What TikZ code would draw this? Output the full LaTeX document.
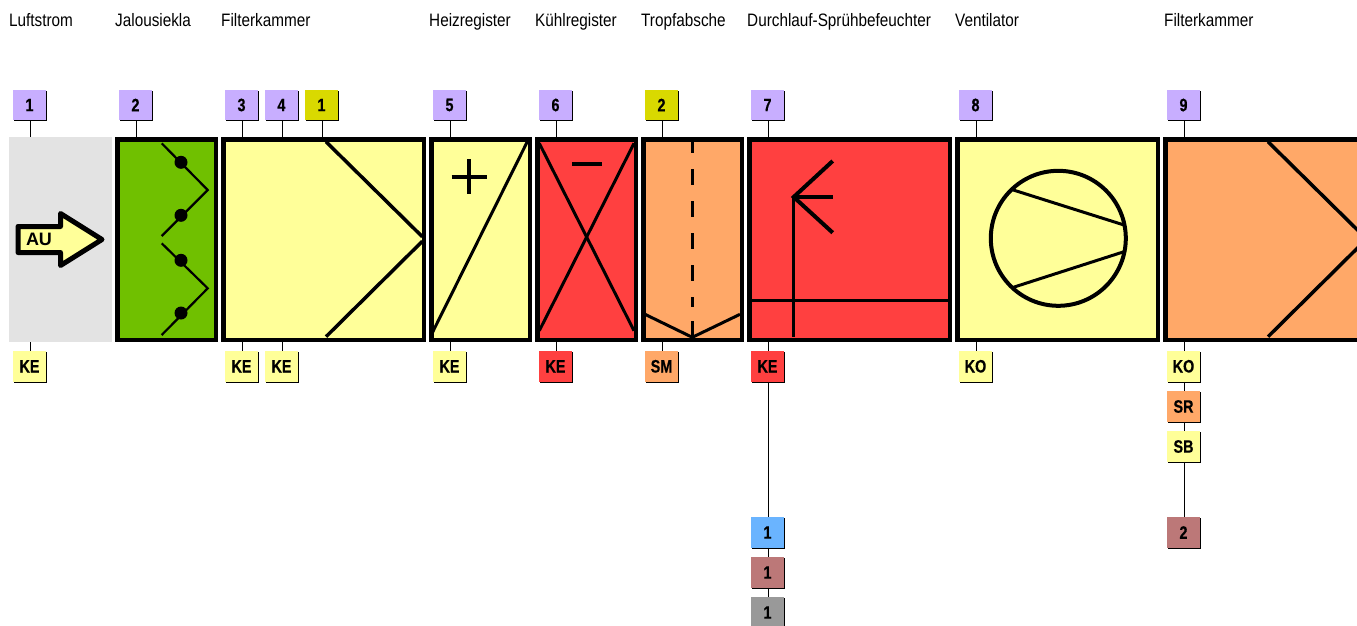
\documentclass[tikz,border=0pt]{standalone}
\usepackage{fontspec}
\usetikzlibrary{shadows}
\setmainfont{Liberation Sans}
\newfontfamily\labfont[FakeStretch=0.85]{Liberation Sans}
\newfontfamily\badfont[FakeStretch=0.8,FakeBold=0.4]{Liberation Sans Bold}
\newfontfamily\aufont{Liberation Sans Bold}
\definecolor{lilac}{HTML}{C8AEFF}
\definecolor{lime}{HTML}{D9D900}
\definecolor{ltyel}{HTML}{FFFF99}
\definecolor{redc}{HTML}{FF4040}
\definecolor{orangec}{HTML}{FFA868}
\definecolor{greenc}{HTML}{70C000}
\definecolor{bluec}{HTML}{6AB4FF}
\definecolor{brownc}{HTML}{BC7878}
\definecolor{greyc}{HTML}{999999}
\definecolor{ltgrey}{HTML}{E3E3E3}
\tikzset{
  head/.style={anchor=base west,inner sep=0pt,font=\labfont\fontsize{18pt}{20pt}\selectfont},
  badge/.style={rectangle,inner sep=0pt,minimum width=33pt,minimum height=30.5pt,
    font=\badfont\fontsize{18pt}{20pt}\selectfont,
    drop shadow={shadow xshift=1pt,shadow yshift=-1pt,fill=black,opacity=1}},
  block/.style={rectangle,draw=black,line width=4.5pt,inner sep=0pt,anchor=north west,minimum height=200.5pt},
  conn/.style={draw=black,line width=1pt},
  sym/.style={draw=black,line width=3.5pt},
  symthin/.style={draw=black,line width=3pt},
}
\newcommand{\upc}[2]{\draw[conn] ([xshift=.8pt]#1.south) -- ([xshift=.8pt]#1.south |- #2.north);}
\newcommand{\dnc}[2]{\draw[conn] ([xshift=.8pt]#2.north |- #1.south) -- ([xshift=.8pt]#2.north);}
\begin{document}
\begin{tikzpicture}[x=1pt,y=-1pt]
\useasboundingbox (0,0) rectangle (1357,625);
\clip (0,0) rectangle (1357,625);
% headings
\node[head] (h1) at (9,26.6) {Luftstrom};
\node[head] (h2) at (115,26.6) {Jalousiekla};
\node[head] (h3) at (221,26.6) {Filterkammer};
\node[head] (h4) at (429,26.6) {Heizregister};
\node[head] (h5) at (535,26.6) {Kühlregister};
\node[head] (h6) at (641,26.6) {Tropfabsche};
\node[head] (h7) at (747,26.6) {Durchlauf-Sprühbefeuchter};
\node[head] (h8) at (955,26.6) {Ventilator};
\node[head] (h9) at (1164,26.6) {Filterkammer};
% blocks
\node[rectangle,fill=ltgrey,inner sep=0pt,anchor=north west,minimum width=103pt,minimum height=205pt] (A) at (9,137) {};
\node[block,fill=greenc,minimum width=98.5pt] (B) at (115,137) {};
\node[block,fill=ltyel,minimum width=200.5pt] (C) at (221,137) {};
\node[block,fill=ltyel,minimum width=98.5pt] (D) at (429,137) {};
\node[block,fill=redc,minimum width=98.5pt] (E) at (535,137) {};
\node[block,fill=orangec,minimum width=98.5pt] (F) at (641,137) {};
\node[block,fill=redc,minimum width=200.5pt] (G) at (747,137) {};
\node[block,fill=ltyel,minimum width=200.5pt] (H) at (955,137) {};
\node[block,fill=orangec,minimum width=200.5pt] (I) at (1163,137) {};
% top badges
\node[badge,fill=lilac] (t1) at (29.5,105) {1};
\node[badge,fill=lilac] (t2) at (135.5,105) {2};
\node[badge,fill=lilac] (t3) at (241.5,105) {3};
\node[badge,fill=lilac] (t4) at (281.5,105) {4};
\node[badge,fill=lime] (t5) at (321.5,105) {1};
\node[badge,fill=lilac] (t6) at (449.5,105) {5};
\node[badge,fill=lilac] (t7) at (555.5,105) {6};
\node[badge,fill=lime] (t8) at (661.5,105) {2};
\node[badge,fill=lilac] (t9) at (767.5,105) {7};
\node[badge,fill=lilac] (t10) at (975.5,105) {8};
\node[badge,fill=lilac] (t11) at (1183.5,105) {9};
% bottom badges
\node[badge,fill=ltyel] (b1) at (29.5,366.3) {KE};
\node[badge,fill=ltyel] (b3) at (241.5,366.3) {KE};
\node[badge,fill=ltyel] (b4) at (281.5,366.3) {KE};
\node[badge,fill=ltyel] (b6) at (449.5,366.3) {KE};
\node[badge,fill=redc] (b7) at (555.5,366.3) {KE};
\node[badge,fill=orangec] (b8) at (661.5,366.3) {SM};
\node[badge,fill=redc] (b9) at (767.5,366.3) {KE};
\node[badge,fill=ltyel] (b10) at (975.5,366.3) {KO};
\node[badge,fill=ltyel] (b11) at (1183.5,366.3) {KO};
\node[badge,fill=orangec] (c11) at (1183.5,406.5) {SR};
\node[badge,fill=ltyel] (d11) at (1183.5,446.5) {SB};
\node[badge,fill=brownc] (e11) at (1183.5,532.5) {2};
\node[badge,fill=bluec] (e9) at (767.5,532.5) {1};
\node[badge,fill=brownc] (f9) at (767.5,572.5) {1};
\node[badge,fill=greyc] (g9) at (767.5,612.5) {1};
% connectors to blocks
\upc{t1}{A}\upc{t2}{B}\upc{t3}{C}\upc{t4}{C}\upc{t5}{C}\upc{t6}{D}\upc{t7}{E}\upc{t8}{F}\upc{t9}{G}\upc{t10}{H}\upc{t11}{I}
\dnc{A}{b1}\dnc{C}{b3}\dnc{C}{b4}\dnc{D}{b6}\dnc{E}{b7}\dnc{F}{b8}\dnc{G}{b9}\dnc{H}{b10}\dnc{I}{b11}
% chains
\dnc{b9}{e9}\dnc{e9}{f9}\dnc{f9}{g9}
\dnc{b11}{c11}\dnc{c11}{d11}\dnc{d11}{e11}
% arrow in block A
\draw[line width=5pt,line join=round,fill=ltyel] (18,226.5) -- (60.5,226.5) -- (60.5,213.5) -- (102,239.5) -- (60.5,265.5) -- (60.5,252.5) -- (18,252.5) -- cycle;
\node[font=\aufont\fontsize{18pt}{20pt}\selectfont,inner sep=0pt] (au) at (39,239.5) {AU};
% damper symbol
\draw[line width=2.2pt] (161.7,143.3) -- (207.7,190) -- (161.7,236);
\draw[line width=2.2pt] (161.7,243.3) -- (207.7,288.3) -- (161.7,335);
\foreach \y in {162.3,215.3,260.3,313} \fill (181,\y) circle (6.5pt);
% filter symbol
\draw[sym] (326,141.7) -- (422.3,236.7);
\draw[sym] (326,336.7) -- (422.3,241.3);
% heater
\draw[symthin] (527.3,141.7) -- (431.7,334);
\draw[sym] (451.7,177) -- (487,177);
\draw[sym] (469,159.3) -- (469,194.3);
% cooler
\draw[symthin] (539.3,143.3) -- (634,330.7);
\draw[symthin] (634,143.3) -- (539.3,330.7);
\draw[sym] (572.3,164) -- (602.3,164);
% droplet separator
\draw[sym,dash pattern=on 16pt off 16pt] (692.3,137) -- (692.3,307);
\draw[sym] (692.3,321) -- (692.3,337);
\draw[symthin] (645,314.3) -- (692.3,337.3) -- (740,314.3);
% humidifier
\draw[line width=2.5pt] (751,300.3) -- (948,300.3);
\draw[symthin] (793.7,197) -- (793.7,337);
\draw[line width=4pt] (832.7,161) -- (793.7,197) -- (832.7,232.7);
\draw[line width=4pt] (793.7,197) -- (832.7,197);
% fan
\draw[line width=4pt] (1058.3,238.3) circle (67.5pt);
\draw[symthin] (1013.3,190) -- (1124,225);
\draw[symthin] (1013.3,287.3) -- (1124,251.7);
% filter 2
\draw[sym] (1268,141.7) -- (1364.3,236.7);
\draw[sym] (1268,336.7) -- (1364.3,241.3);
\end{tikzpicture}
\end{document}
